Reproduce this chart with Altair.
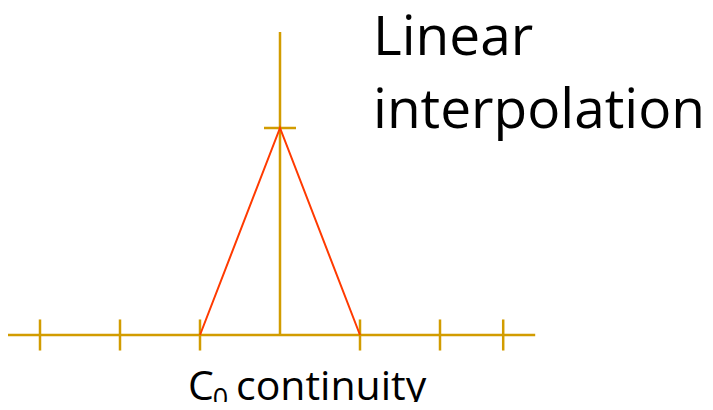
import altair as alt
import pandas as pd

# data (units: one tick spacing = 1 on x, peak height = 1 on y)
tick_x = [-3, -2, -1, 1, 2, 2.79]
axis_x = [-3.4, 3.19]
vert_top = 1.464
tick_half = 0.075
peak_tick_half = 0.2
hat_x = [-1, 0, 1]
hat_y = [0, 1, 0]

GOLD = "#D29C00"
RED = "#FF3A00"
FONT = "Open Sans"

W, H = 697, 394
xs = alt.Scale(domain=[-3.4, 5.3125], nice=False, zero=False)
ys = alt.Scale(domain=[-0.3237, 1.5797], nice=False, zero=False)
X = lambda f: alt.X(f, type="quantitative", scale=xs, axis=None)
Y = lambda f: alt.Y(f, type="quantitative", scale=ys, axis=None)

axis_df = pd.DataFrame({"x": [axis_x[0]], "x2": [axis_x[1]], "y": [0]})
hline = alt.Chart(axis_df).mark_rule(color=GOLD, strokeWidth=2.5).encode(
    x=X("x"), x2="x2", y=Y("y"))

vdf = pd.DataFrame({"x": [0], "y": [0], "y2": [vert_top]})
vline = alt.Chart(vdf).mark_rule(color=GOLD, strokeWidth=2.5).encode(
    x=X("x"), y=Y("y"), y2="y2")

tdf = pd.DataFrame({"x": tick_x, "y": [-tick_half] * len(tick_x), "y2": [tick_half] * len(tick_x)})
ticks = alt.Chart(tdf).mark_rule(color=GOLD, strokeWidth=2.5).encode(
    x=X("x"), y=Y("y"), y2="y2")

pdf = pd.DataFrame({"x": [-peak_tick_half], "x2": [peak_tick_half], "y": [1]})
ptick = alt.Chart(pdf).mark_rule(color=GOLD, strokeWidth=2.5).encode(
    x=X("x"), x2="x2", y=Y("y"))

hdf = pd.DataFrame({"x": hat_x, "y": hat_y, "o": [0, 1, 2]})
hat = alt.Chart(hdf).mark_line(color=RED, strokeWidth=2).encode(
    x=X("x"), y=Y("y"), order="o")

labels = pd.DataFrame({
    "t": ["Linear", "interpolation", "C", "0", "continuity"],
    "x": [1.1625, 1.1625, -1.15, -0.84, -0.55],
    "y": [1.353, 1.0, -0.314, -0.355, -0.314],
    "s": [55, 55, 41, 27, 41],
})
texts = []
for _, r in labels.iterrows():
    d = pd.DataFrame([r])
    texts.append(alt.Chart(d).mark_text(
        align="left", baseline="alphabetic", font=FONT, fontSize=float(r["s"]), color="black"
    ).encode(x=X("x"), y=Y("y"), text="t"))

chart = alt.layer(hline, vline, ticks, ptick, hat, *texts).properties(
    width=W, height=H, padding=0, autosize=alt.AutoSizeParams(type="none")
).configure_view(stroke=None)

chart.save("out.html", embed_options={"renderer": "svg", "actions": False})
